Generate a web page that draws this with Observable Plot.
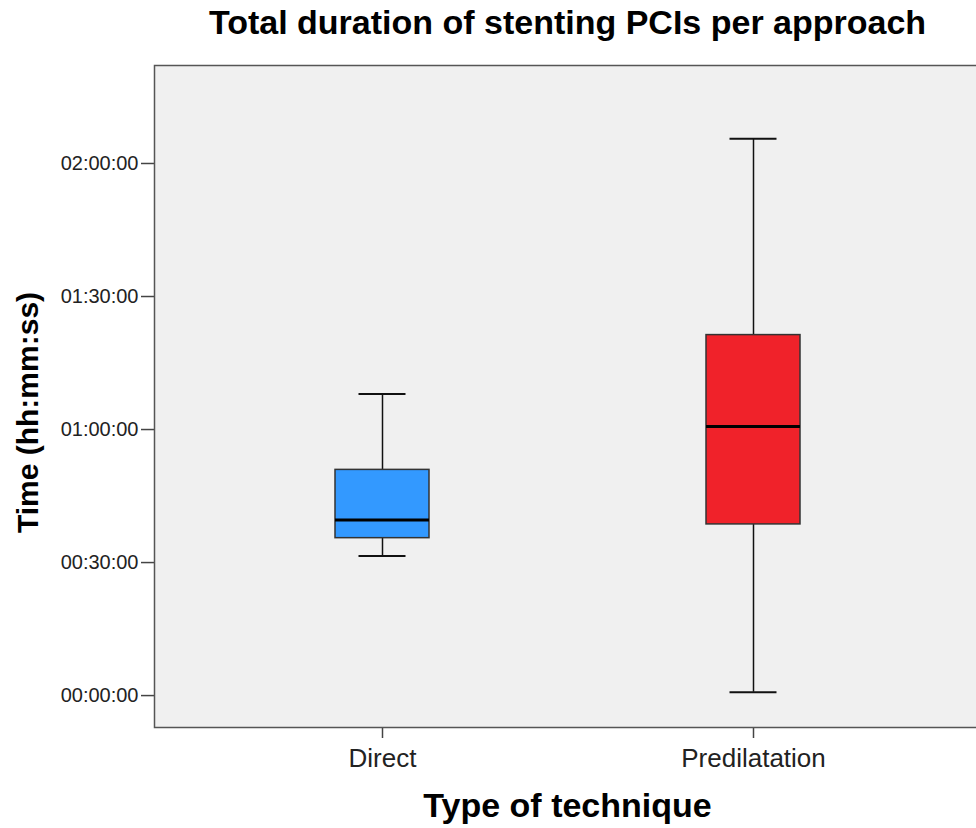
<!DOCTYPE html>
<html>
<head>
<meta charset="utf-8">
<script src="https://cdn.jsdelivr.net/npm/d3@7"></script>
<script src="https://cdn.jsdelivr.net/npm/@observablehq/plot@0.6"></script>
<style>
  html, body { margin: 0; padding: 0; background: #ffffff; }
  #chart { width: 976px; height: 828px; overflow: hidden; }
</style>
</head>
<body>
<div id="chart"></div>
<script>
// Data (minutes)
const categories = ["Direct", "Predilatation"];
const boxColors = ["#3399FF", "#F0222A"];
const whiskerLow = [31.5, 0.75];
const quartile1 = [35.5, 38.6];
const medians = [39.6, 60.7];
const quartile3 = [50.9, 81.3];
const whiskerHigh = [68.0, 125.6];
const tickValues = [0, 30, 60, 90, 120];
const tickLabels = ["00:00:00", "00:30:00", "01:00:00", "01:30:00", "02:00:00"];

const stats = categories.map((c, i) => ({
  cat: c, lo: whiskerLow[i], q1: quartile1[i], med: medians[i], q3: quartile3[i], hi: whiskerHigh[i]
}));

const font = "'Liberation Sans', Arial, sans-serif";

const chart = Plot.plot({
  width: 976,
  height: 828,
  marginTop: 65,
  marginBottom: 101,
  marginLeft: 154,
  marginRight: -4,
  style: { background: "#ffffff", fontFamily: font, overflow: "hidden" },
  x: { type: "band", domain: categories, paddingInner: 0.7475, paddingOuter: 0.484, label: null, axis: null },
  y: { domain: [-7.2, 142.1], label: null, axis: null },
  color: { domain: categories, range: boxColors },
  marks: [
    Plot.frame({ fill: "#f0f0f0" }),
    Plot.axisY({ ticks: tickValues, tickFormat: d => tickLabels[tickValues.indexOf(d)], tickSize: 13, tickPadding: 3, fontSize: 20, color: "#222", stroke: "#444", strokeWidth: 1.5, label: null }),
    Plot.axisX({ tickSize: 11, tickPadding: 10, fontSize: 26, color: "#222", stroke: "#444", strokeWidth: 1.5, label: null }),
    Plot.ruleX(stats, { x: "cat", y1: "q3", y2: "hi", stroke: "#111", strokeWidth: 1.5 }),
    Plot.ruleX(stats, { x: "cat", y1: "lo", y2: "q1", stroke: "#111", strokeWidth: 1.5 }),
    Plot.tickY(stats, { x: "cat", y: "hi", stroke: "#111", strokeWidth: 2, insetLeft: 23.5, insetRight: 23.5 }),
    Plot.tickY(stats, { x: "cat", y: "lo", stroke: "#111", strokeWidth: 2, insetLeft: 23.5, insetRight: 23.5 }),
    Plot.rectY(stats, { x: "cat", y1: "q1", y2: "q3", fill: "cat", stroke: "#333", strokeWidth: 1.5 }),
    Plot.tickY(stats, { x: "cat", y: "med", stroke: "#000", strokeWidth: 3 }),
    Plot.frame({ stroke: "#555", strokeWidth: 1.5 }),
    Plot.text(["Total duration of stenting PCIs per approach"], { frameAnchor: "top", dy: -55.5, fontSize: 34, fontWeight: "bold", fill: "#000" }),
    Plot.text(["Type of technique"], { frameAnchor: "bottom", dy: 89.5, fontSize: 34, fontWeight: "bold", fill: "#000" }),
    Plot.text(["Time (hh:mm:ss)"], { frameAnchor: "left", textAnchor: "middle", dx: -126, dy: 16, rotate: -90, fontSize: 30, fontWeight: "bold", fill: "#000" })
  ]
});

document.getElementById("chart").appendChild(chart);
</script>
</body>
</html>
